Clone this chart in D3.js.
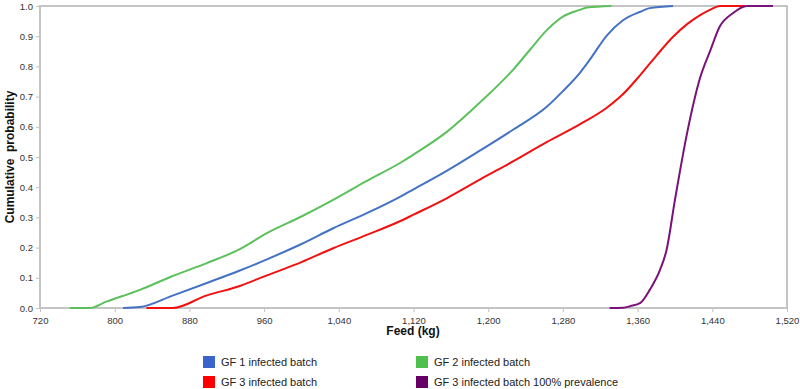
<!DOCTYPE html>
<html>
<head>
<meta charset="utf-8">
<script src="https://cdn.jsdelivr.net/npm/d3@7"></script>
<style>
  html, body { margin: 0; padding: 0; background: #fff; }
  svg { display: block; font-family: "Liberation Sans", Arial, sans-serif; }
</style>
</head>
<body>
<svg id="chart" width="800" height="389"></svg>
<script>
// ---- Data ----
const xTicks = [720, 800, 880, 960, 1040, 1120, 1200, 1280, 1360, 1440, 1520];
const yTicks = [0.0, 0.1, 0.2, 0.3, 0.4, 0.5, 0.6, 0.7, 0.8, 0.9, 1.0];

const seriesNames = ["GF 1 infected batch", "GF 2 infected batch", "GF 3 infected batch", "GF 3 infected batch 100% prevalence"];
const seriesColors = ["#4472c4", "#5cc15c", "#f21010", "#7a127a"];
const legendColors = ["#3a64cc", "#4fbf4f", "#ff0000", "#660066"];

const feedGF1 = [809, 827, 862, 898, 934, 963, 1000, 1034, 1070, 1106, 1120, 1156, 1191, 1227, 1263, 1280, 1298, 1309, 1327, 1344, 1363, 1373, 1398];
const probGF1 = [0, 0.003, 0.041, 0.082, 0.124, 0.161, 0.212, 0.264, 0.314, 0.369, 0.393, 0.455, 0.521, 0.591, 0.667, 0.718, 0.778, 0.823, 0.902, 0.952, 0.981, 0.993, 1.0];

const feedGF2 = [752, 773, 791, 827, 862, 898, 934, 963, 1000, 1034, 1070, 1106, 1120, 1156, 1191, 1227, 1245, 1263, 1280, 1298, 1306, 1332];
const probGF2 = [0, 0, 0.021, 0.060, 0.106, 0.148, 0.195, 0.248, 0.303, 0.358, 0.421, 0.481, 0.508, 0.584, 0.680, 0.790, 0.856, 0.921, 0.965, 0.987, 0.995, 1.0];

const feedGF3 = [834, 862, 898, 934, 963, 1000, 1034, 1070, 1106, 1120, 1156, 1191, 1227, 1263, 1298, 1327, 1345, 1363, 1380, 1398, 1413, 1427, 1438, 1448, 1475];
const probGF3 = [0, 0, 0.041, 0.073, 0.108, 0.152, 0.198, 0.242, 0.288, 0.309, 0.364, 0.425, 0.486, 0.550, 0.608, 0.663, 0.71, 0.772, 0.835, 0.898, 0.94, 0.970, 0.988, 1.0, 1.0];

const feedGF3p = [1330, 1345, 1352, 1363, 1373, 1384, 1391, 1400, 1413, 1427, 1438, 1448, 1462, 1477, 1505];
const probGF3p = [0, 0.001, 0.006, 0.017, 0.060, 0.126, 0.192, 0.358, 0.579, 0.763, 0.854, 0.932, 0.976, 1.0, 1.0];

const feeds = [feedGF1, feedGF2, feedGF3, feedGF3p];
const probs = [probGF1, probGF2, probGF3, probGF3p];

// ---- Layout ----
const svg = d3.select("#chart");
const mLeft = 40, mRight = 787, mTop = 6, mBottom = 308;

const x = d3.scaleLinear().domain([720, 1520]).range([mLeft, mRight]);
const y = d3.scaleLinear().domain([0, 1]).range([mBottom, mTop]);

// Axes
const xAxis = d3.axisBottom(x).tickValues(xTicks).tickSize(4).tickSizeOuter(0)
  .tickFormat(d => d3.format(",")(d));
const gx = svg.append("g").attr("transform", `translate(0,${mBottom})`).call(xAxis);
gx.select(".domain").remove();
gx.selectAll(".tick line").attr("stroke", "#c0c0c0");
gx.selectAll(".tick text").attr("fill", "#333").style("font-size", "9.5px")
  .style("font-family", "'Liberation Sans', Arial, sans-serif").attr("dy", "0.9em");

const yAxis = d3.axisLeft(y).tickValues(yTicks).tickSize(4).tickSizeOuter(0)
  .tickFormat(d3.format(".1f"));
const gy = svg.append("g").attr("transform", `translate(${mLeft},0)`).call(yAxis);
gy.select(".domain").remove();
gy.selectAll(".tick line").attr("stroke", "#c0c0c0");
gy.selectAll(".tick text").attr("fill", "#333").style("font-size", "9.5px")
  .style("font-family", "'Liberation Sans', Arial, sans-serif").attr("x", -7);

// Plot frame
svg.append("rect")
  .attr("x", mLeft).attr("y", mTop)
  .attr("width", mRight - mLeft).attr("height", mBottom - mTop)
  .attr("fill", "none").attr("stroke", "#c4c4c4").attr("stroke-width", 2);

// Lines
const line = d3.line().x(d => x(d[0])).y(d => y(d[1])).curve(d3.curveMonotoneX);
seriesNames.forEach((name, i) => {
  const pts = feeds[i].map((f, j) => [f, probs[i][j]]);
  svg.append("path")
    .datum(pts)
    .attr("d", line)
    .attr("fill", "none")
    .attr("stroke", seriesColors[i])
    .attr("stroke-width", 2);
});

// Axis titles
svg.append("text")
  .attr("x", 413).attr("y", 335)
  .attr("text-anchor", "middle")
  .style("font-size", "12px").style("font-weight", "bold").attr("fill", "#111")
  .text("Feed (kg)");

svg.append("text")
  .attr("transform", `translate(14,157) rotate(-90)`)
  .attr("text-anchor", "middle")
  .style("font-size", "12px").style("font-weight", "bold").attr("fill", "#111")
  .style("white-space", "pre")
  .text("Cumulative  probability");

// Legend
const legendPos = [[203, 356], [416, 356], [203, 376], [416, 376]];
seriesNames.forEach((name, k) => {
  const [lx, ly] = legendPos[k];
  svg.append("rect")
    .attr("x", lx).attr("y", ly).attr("width", 12).attr("height", 12)
    .attr("fill", legendColors[k]);
  svg.append("text")
    .attr("x", lx + 18).attr("y", ly + 6)
    .attr("dy", "0.35em")
    .style("font-size", "11px").attr("fill", "#222")
    .text(name);
});
</script>
</body>
</html>
